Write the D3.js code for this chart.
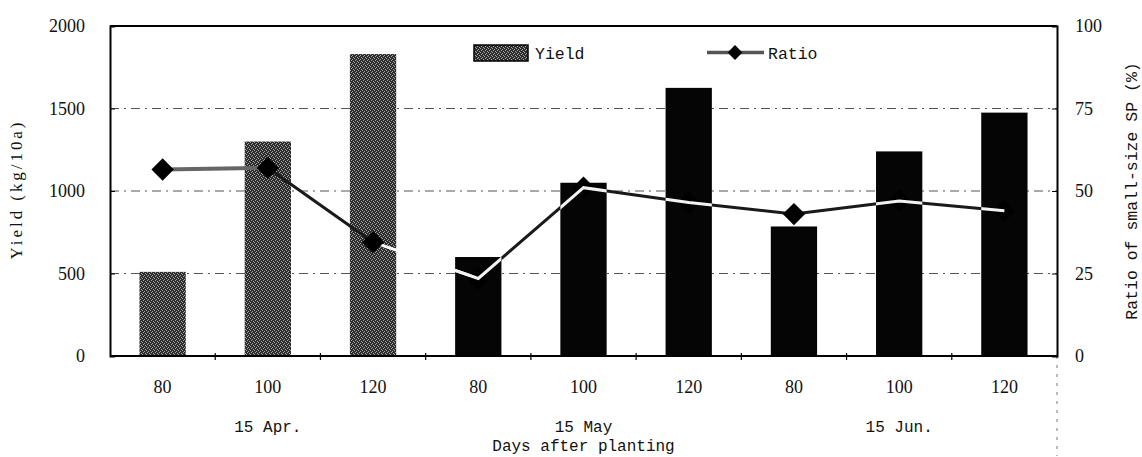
<!DOCTYPE html>
<html>
<head>
<meta charset="utf-8">
<script src="https://cdn.jsdelivr.net/npm/d3@7"></script>
<style>
  body { margin: 0; background: #fff; }
  .serif { font-family: "Liberation Serif", "Times New Roman", serif; }
  .mono { font-family: "Liberation Mono", "DejaVu Sans Mono", monospace; }
</style>
</head>
<body>
<svg id="chart" width="1142" height="457"></svg>
<script>
// data
const days = ["80", "100", "120", "80", "100", "120", "80", "100", "120"];
const plantings = ["15 Apr.", "15 May", "15 Jun."];
const yieldValues = [510, 1300, 1830, 600, 1050, 1625, 785, 1240, 1475];
const ratioValues = [56.5, 57, 34.5, 23.5, 51, 46.5, 43, 47, 44];
const yieldTicks = [0, 500, 1000, 1500, 2000];
const ratioTicks = [0, 25, 50, 75, 100];

const margin = {top: 26, right: 85, bottom: 101, left: 110},
  width = 1142 - margin.left - margin.right,
  height = 457 - margin.top - margin.bottom;

const svg = d3.select("#chart");

// stipple texture for the April bars
const defs = svg.append("defs");
const pat = defs.append("pattern")
  .attr("id", "stipple")
  .attr("patternUnits", "userSpaceOnUse")
  .attr("width", 4).attr("height", 4);
pat.append("rect").attr("width", 4).attr("height", 4).attr("fill", "#2c2c2c");
[[0, 0], [2, 1], [1, 2], [3, 3]].forEach(p => {
  pat.append("rect").attr("x", p[0]).attr("y", p[1])
    .attr("width", 1).attr("height", 1).attr("fill", "#a8a8a8");
});

const g = svg.append("g")
  .attr("transform", "translate(" + margin.left + "," + margin.top + ")");

const idx = d3.range(days.length);

const x = d3.scaleBand()
  .domain(idx)
  .range([0, width])
  .paddingInner(0.56)
  .paddingOuter(0.28);

const band = width / days.length;
const center = i => x(i) + x.bandwidth() / 2;

const yLeft = d3.scaleLinear().domain([0, 2000]).range([height, 0]);
const yRight = d3.scaleLinear().domain([0, 100]).range([height, 0]);

// dashed grid lines
g.selectAll(".grid")
  .data(yieldTicks.filter(t => t > 0 && t < 2000))
  .join("line")
  .attr("class", "grid")
  .attr("x1", 0).attr("x2", width)
  .attr("y1", d => yLeft(d)).attr("y2", d => yLeft(d))
  .attr("stroke", "#555")
  .attr("stroke-width", 1.2)
  .attr("stroke-dasharray", "9,5,2,5");

// bars
g.selectAll(".bar")
  .data(idx)
  .join("rect")
  .attr("class", "bar")
  .attr("x", i => x(i))
  .attr("y", i => yLeft(yieldValues[i]))
  .attr("width", x.bandwidth())
  .attr("height", i => height - yLeft(yieldValues[i]))
  .attr("fill", i => i < 3 ? "url(#stipple)" : "#050505");

// clip for the part of the line lying on the black bars
const clip = defs.append("clipPath").attr("id", "darkBars");
clip.selectAll("rect")
  .data(idx.filter(i => i >= 3))
  .join("rect")
  .attr("x", i => margin.left + x(i))
  .attr("y", i => margin.top + yLeft(yieldValues[i]))
  .attr("width", x.bandwidth())
  .attr("height", i => height - yLeft(yieldValues[i]));

// ratio line, drawn segment by segment
const tone = {0: "#666", 2: "#fff"};
const segs = d3.pairs(idx);
g.selectAll(".seg")
  .data(segs)
  .join("line")
  .attr("class", "seg")
  .attr("x1", d => center(d[0])).attr("y1", d => yRight(ratioValues[d[0]]))
  .attr("x2", d => center(d[1])).attr("y2", d => yRight(ratioValues[d[1]]))
  .attr("stroke", (d, k) => tone[k] || "#1a1a1a")
  .attr("stroke-width", (d, k) => k === 0 ? 4 : 3);

const diamond = d3.symbol().type(d3.symbolSquare).size(250);
g.selectAll(".pt")
  .data(idx)
  .join("path")
  .attr("class", "pt")
  .attr("d", diamond)
  .attr("transform", i => "translate(" + center(i) + "," + yRight(ratioValues[i]) + ") rotate(45)")
  .attr("fill", "#000");

// white trace over the black bars
svg.append("g")
  .attr("clip-path", "url(#darkBars)")
  .append("path")
  .attr("transform", "translate(" + margin.left + "," + margin.top + ")")
  .datum(idx)
  .attr("d", d3.line().x(i => center(i)).y(i => yRight(ratioValues[i])))
  .attr("fill", "none")
  .attr("stroke", "#f2f2f2")
  .attr("stroke-width", 3);

// frame
g.append("line").attr("x1", 0).attr("x2", width).attr("y1", 0).attr("y2", 0)
  .attr("stroke", "#000").attr("stroke-width", 2);
g.append("line").attr("x1", 0).attr("x2", width).attr("y1", height).attr("y2", height)
  .attr("stroke", "#000").attr("stroke-width", 2);
g.append("line").attr("x1", width).attr("x2", width).attr("y1", height).attr("y2", height + 100)
  .attr("stroke", "#777").attr("stroke-width", 1).attr("stroke-dasharray", "3,6");

// left axis
const leftAxis = d3.axisLeft(yLeft).tickValues(yieldTicks).tickFormat(d3.format("d"))
  .tickSize(-5).tickPadding(25);
const la = g.append("g").call(leftAxis);
la.select(".domain").attr("stroke-width", 2);
la.selectAll("text").attr("class", "serif").attr("font-size", 18).attr("fill", "#111");

// right axis
const rightAxis = d3.axisRight(yRight).tickValues(ratioTicks).tickFormat(d3.format("d"))
  .tickSize(-5).tickPadding(18);
const ra = g.append("g").attr("transform", "translate(" + width + ",0)").call(rightAxis);
ra.select(".domain").attr("stroke-width", 2);
ra.selectAll("text").attr("class", "serif").attr("font-size", 18).attr("fill", "#111");

// bottom axis labels
const xAxis = d3.axisBottom(x).tickFormat(i => days[i]).tickSize(0).tickPadding(24);
const xa = g.append("g").attr("transform", "translate(0," + height + ")").call(xAxis);
xa.select(".domain").remove();
xa.selectAll("text").attr("class", "serif").attr("font-size", 18).attr("fill", "#111");

// small marks between categories
g.selectAll(".sep")
  .data(d3.range(1, days.length))
  .join("line")
  .attr("class", "sep")
  .attr("x1", k => k * band).attr("x2", k => k * band)
  .attr("y1", height - 3).attr("y2", height + 4)
  .attr("stroke", "#000").attr("stroke-width", 1.2);

// planting date labels
g.selectAll(".grp")
  .data(plantings)
  .join("text")
  .attr("class", "grp mono")
  .attr("x", (d, k) => center(k * 3 + 1))
  .attr("y", height + 76)
  .attr("text-anchor", "middle")
  .attr("font-size", 16)
  .attr("fill", "#111")
  .text(d => d);

g.append("text")
  .attr("class", "mono")
  .attr("x", center(4))
  .attr("y", height + 95)
  .attr("text-anchor", "middle")
  .attr("font-size", 16)
  .attr("fill", "#111")
  .text("Days after planting");

// axis titles
svg.append("text")
  .attr("class", "serif")
  .attr("transform", "translate(22,191) rotate(-90)")
  .attr("text-anchor", "middle")
  .attr("font-size", 17)
  .attr("textLength", 137)
  .attr("lengthAdjust", "spacing")
  .attr("fill", "#111")
  .text("Yield (kg/10a)");

svg.append("text")
  .attr("class", "mono")
  .attr("transform", "translate(1137,191) rotate(-90)")
  .attr("text-anchor", "middle")
  .attr("font-size", 16.5)
  .attr("fill", "#111")
  .text("Ratio of small-size SP (%)");

// legend
const lg = svg.append("g");
lg.append("rect")
  .attr("x", 474).attr("y", 45).attr("width", 54).attr("height", 16)
  .attr("fill", "url(#stipple)").attr("stroke", "#000").attr("stroke-width", 1.5);
lg.append("text").attr("class", "mono")
  .attr("x", 535).attr("y", 59).attr("font-size", 16.5).attr("fill", "#111").text("Yield");
lg.append("line")
  .attr("x1", 707).attr("x2", 764).attr("y1", 52.5).attr("y2", 52.5)
  .attr("stroke", "#555").attr("stroke-width", 3.5);
lg.append("path")
  .attr("d", d3.symbol().type(d3.symbolSquare).size(110))
  .attr("transform", "translate(735,52.5) rotate(45)")
  .attr("fill", "#000");
lg.append("text").attr("class", "mono")
  .attr("x", 768).attr("y", 59).attr("font-size", 16.5).attr("fill", "#111").text("Ratio");
</script>
</body>
</html>
